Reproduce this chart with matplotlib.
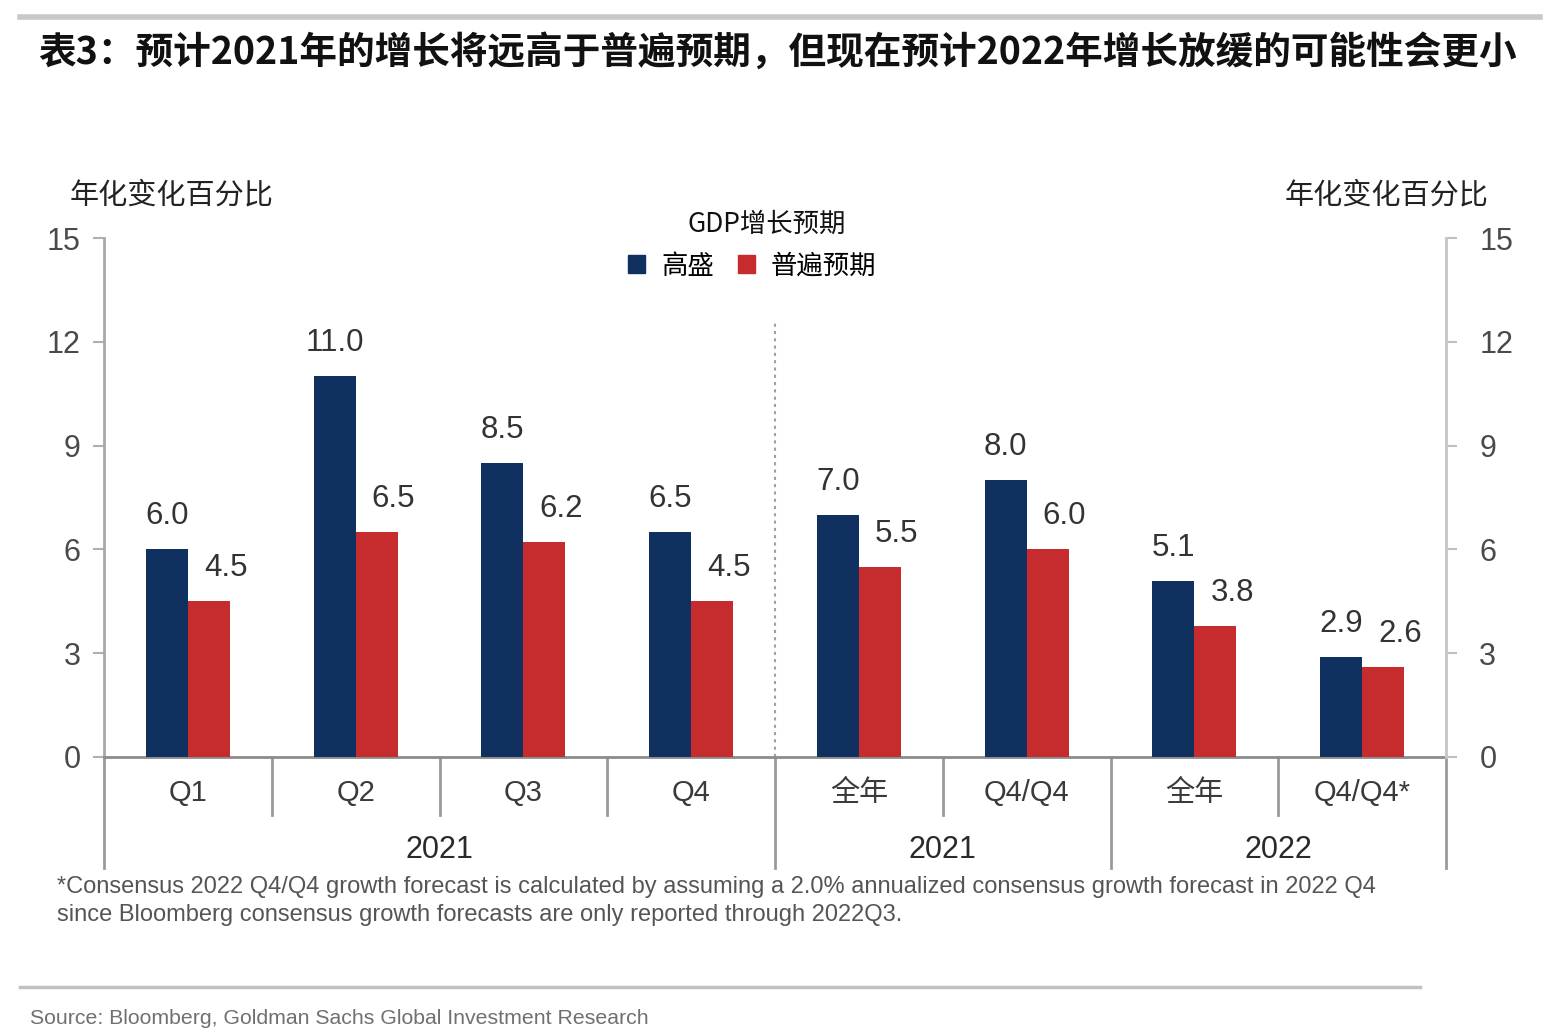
import matplotlib
matplotlib.use("Agg")
import matplotlib.pyplot as plt
from matplotlib.patches import Patch
from matplotlib.lines import Line2D
import matplotlib.transforms as mtransforms

plt.rcParams['font.family'] = ['Liberation Sans', 'Noto Sans CJK SC', 'DejaVu Sans']

categories = ["Q1", "Q2", "Q3", "Q4", "全年", "Q4/Q4", "全年", "Q4/Q4*"]
groups = ["2021", "2021", "2022"]
group_spans = [(0, 3), (4, 5), (6, 7)]
goldman = [6.0, 11.0, 8.5, 6.5, 7.0, 8.0, 5.1, 2.9]
consensus = [4.5, 6.5, 6.2, 4.5, 5.5, 6.0, 3.8, 2.6]
series_names = ["高盛", "普遍预期"]
yticks = [0, 3, 6, 9, 12, 15]

title = "表3：预计2021年的增长将远高于普遍预期，但现在预计2022年增长放缓的可能性会更小"
unit_label = "年化变化百分比"
legend_title = "GDP增长预期"
footnote = ("*Consensus 2022 Q4/Q4 growth forecast is calculated by assuming a 2.0% annualized consensus growth forecast in 2022 Q4\n"
            "since Bloomberg consensus growth forecasts are only reported through 2022Q3.")
source = "Source: Bloomberg, Goldman Sachs Global Investment Research"

NAVY = "#10315f"
RED = "#c62b2d"

W, H = 1557, 1034
fig = plt.figure(figsize=(W / 100, H / 100), dpi=100)
fig.patch.set_facecolor("white")

def fx(px):
    return px / W

def fy(py):
    return 1 - py / H

ax = fig.add_axes([fx(104), fy(757), fx(1446) - fx(104), fy(238) - fy(757)])
n = len(categories)
x = list(range(n))
bw = 0.25
ax.bar([i - bw / 2 for i in x], goldman, width=bw, color=NAVY, zorder=3)
ax.bar([i + bw / 2 for i in x], consensus, width=bw, color=RED, zorder=3)

ax.set_xlim(-0.5, n - 0.5)
ax.set_ylim(0, 15)
ax.set_yticks(yticks)
ax.set_yticklabels([str(v) for v in yticks])
ax.set_xticks([])
for s in ["top"]:
    ax.spines[s].set_visible(False)
ax.spines["left"].set_color("#a8a8a8")
ax.spines["left"].set_linewidth(2)
ax.spines["right"].set_color("#c8c8c8")
ax.spines["right"].set_linewidth(2)
ax.spines["bottom"].set_color("#8c8c8c")
ax.spines["bottom"].set_linewidth(2)
ax.tick_params(axis="y", left=True, right=True, labelleft=True, labelright=False,
               length=8, width=1.5, color="#b0b0b0", labelsize=22, labelcolor="#4a4a4a", pad=9)

ax2 = ax.twinx()
ax2.set_ylim(0, 15)
ax2.set_yticks(yticks)
ax2.set_yticklabels([str(v) for v in yticks])
for s in ["top", "left", "bottom"]:
    ax2.spines[s].set_visible(False)
ax2.spines["right"].set_color("#c8c8c8")
ax2.spines["right"].set_linewidth(2)
ax2.tick_params(axis="y", length=8, width=1.5, color="#c0c0c0", labelsize=22,
                labelcolor="#4a4a4a", pad=16)

# value labels
pt = 72 / 100.0
for i in x:
    ax.annotate(f"{goldman[i]:.1f}", (i - bw / 2, goldman[i]), xytext=(0, 33 * pt),
                textcoords="offset points", ha="center", va="center", fontsize=22.5,
                color="#333333", zorder=4)
    ax.annotate(f"{consensus[i]:.1f}", (i + bw / 2, consensus[i]), xytext=(17 * pt, 33 * pt),
                textcoords="offset points", ha="center", va="center", fontsize=22.5,
                color="#333333", zorder=4)

# dotted separator
ax.plot([3.5, 3.5], [0, 12.6], linestyle=(0, (1.5, 2)), color="#a0a0a0", linewidth=1.5, zorder=2)

# category axis dividers
trans = mtransforms.blended_transform_factory(ax.transData, ax.transAxes)
short_len = 58 / (757 - 238)
long_len = 111 / (757 - 238)
long_bounds = {-0.5, 3.5, 5.5, 7.5}
for b in [i - 0.5 for i in range(n + 1)]:
    ln = long_len if b in long_bounds else short_len
    ax.add_line(Line2D([b, b], [0, -ln], transform=trans, color="#9a9a9a", linewidth=2,
                       clip_on=False))

cat_y = -36 / (757 - 238)
grp_y = -93 / (757 - 238)
for i, c in enumerate(categories):
    ax.text(i, cat_y, c, transform=trans, ha="center", va="center", fontsize=21,
            color="#3a3a3a")
for g, (a, b) in zip(groups, group_spans):
    ax.text((a + b) / 2, grp_y, g, transform=trans, ha="center", va="center", fontsize=22,
            color="#2a2a2a")

# unit labels
fig.text(fx(70), fy(195), unit_label, ha="left", va="center", fontsize=21, color="#222222",
         family=["Noto Sans CJK SC"])
fig.text(fx(1488), fy(195), unit_label, ha="right", va="center", fontsize=21, color="#222222",
         family=["Noto Sans CJK SC"])

# legend
fig.text(fx(767), fy(224), legend_title, ha="center", va="center", fontsize=19, color="#111111",
         family=["Noto Sans CJK SC"])
handles = [Patch(facecolor=NAVY, edgecolor=NAVY), Patch(facecolor=RED, edgecolor=RED)]
leg = fig.legend(handles, series_names, loc="center", bbox_to_anchor=(fx(752), fy(266)),
                 ncol=2, frameon=False, handlelength=0.65, handleheight=0.65,
                 handletextpad=0.6, columnspacing=0.9,
                 prop={"family": "Noto Sans CJK SC", "size": 19})

# title
fig.text(fx(38), fy(52), title, ha="left", va="center", fontsize=27.1, fontweight="bold",
         color="#111111", family=["Noto Sans CJK SC", "DejaVu Sans"])

# rules
fig.add_artist(Line2D([fx(20), fx(1540)], [fy(17), fy(17)], color="#c8c8c8", linewidth=4))
fig.add_artist(Line2D([fx(20), fx(1420)], [fy(987), fy(987)], color="#c0c0c0", linewidth=2.5))

# footnote & source
fig.text(fx(57), fy(901), footnote, ha="left", va="center", fontsize=17, color="#555555",
         linespacing=1.3, family=["Liberation Sans"])
fig.text(fx(30), fy(1018), source, ha="left", va="center", fontsize=15.3, color="#707070",
         family=["Liberation Sans"])

fig.savefig("out.png", dpi=100, facecolor="white")
